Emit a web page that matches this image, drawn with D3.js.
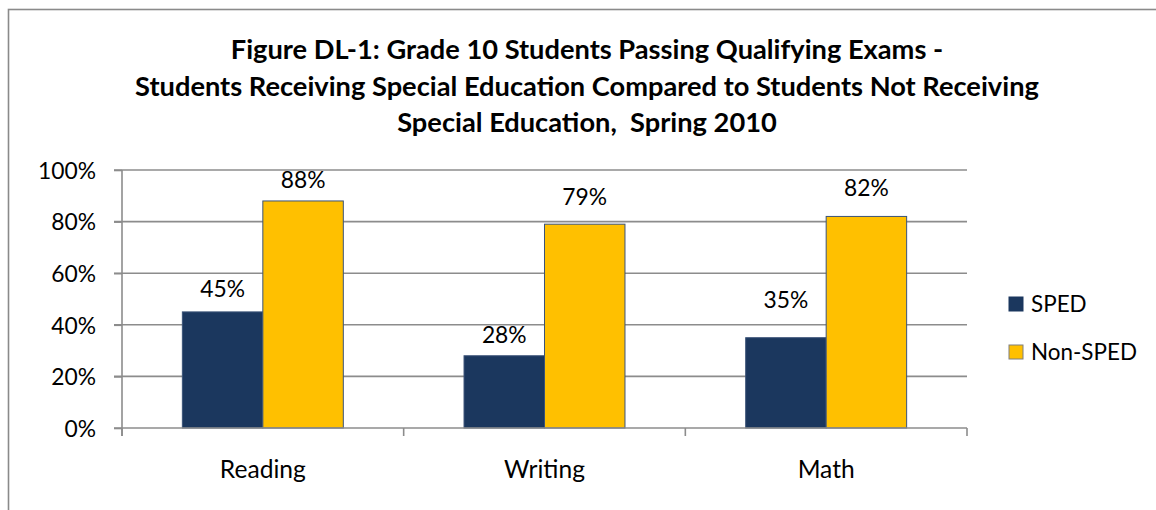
<!DOCTYPE html>
<html><head><meta charset="utf-8">
<script src="https://cdn.jsdelivr.net/npm/d3@7"></script>
<style>html,body{margin:0;padding:0;background:#fff;overflow:hidden} text{white-space:pre}</style>
</head><body>
<svg id="c" width="1156" height="510"></svg>
<script>
const categories = ["Reading", "Writing", "Math"];
const seriesNames = ["SPED", "Non-SPED"];
const spedValues = [45, 28, 35];
const nonSpedValues = [88, 79, 82];
const yTicks = [0, 20, 40, 60, 80, 100];
const titleLines = [
  "Figure DL-1: Grade 10 Students Passing Qualifying Exams -",
  "Students Receiving Special Education Compared to Students Not Receiving",
  "Special Education,  Spring 2010"
];
// layout-only nudges for data labels (px above bar top)
const labelLift = [[15, 13], [13, 19], [30, 20]];

(function () {
const FONT = "Lato, 'Open Sans', sans-serif";
const colors = ["#1B375E", "#FFC000"];
const gridColor = "#8c8c8c";

const svg = d3.select("#c");

function fitSize(text, weight, targetW) {
  const t = svg.append("text").attr("font-family", FONT).attr("font-weight", weight)
    .attr("font-size", 100).text(text);
  const w = t.node().getComputedTextLength();
  t.remove();
  return 100 * targetW / w;
}
const titleSize = fitSize(titleLines[1], "bold", 904);
const tickSize = fitSize("100%", "normal", 58);
const catSize = fitSize("Reading", "normal", 86);
const legSize = fitSize("Non-SPED", "normal", 106);

// frame
svg.append("rect").attr("x", 8.5).attr("y", 9.5).attr("width", 1200).attr("height", 600)
  .attr("fill", "none").attr("stroke", "#8a8a8a").attr("stroke-width", 1.6);

// title
svg.append("g").selectAll("text").data(titleLines).join("text")
  .attr("x", 587).attr("y", (d, i) => 59 + i * 36.5)
  .attr("text-anchor", "middle").attr("font-family", FONT).attr("font-weight", "bold")
  .attr("font-size", titleSize).attr("fill", "#000").text(d => d);

const pL = 122, pR = 967, pT = 170, pB = 428;
const x0 = d3.scaleBand().domain(categories).range([pL, pR]).paddingInner(0).paddingOuter(0);
const bw = x0.bandwidth() / 3.5;
const x1 = d3.scaleBand().domain(seriesNames).range([0.75 * bw, 2.75 * bw]).padding(0);
const y = d3.scaleLinear().domain([0, 100]).range([pB, pT]);

// gridlines
svg.append("g").selectAll("line").data(yTicks.filter(d => d > 0)).join("line")
  .attr("x1", pL - 8).attr("x2", pR).attr("y1", d => y(d)).attr("y2", d => y(d))
  .attr("stroke", gridColor).attr("stroke-width", 1.6);

// y axis
const yAxis = d3.axisLeft(y).tickValues(yTicks).tickSize(8).tickPadding(18)
  .tickFormat(d => d + "%");
const yg = svg.append("g").attr("transform", `translate(${pL},0)`).call(yAxis);
yg.select(".domain").remove();
yg.selectAll(".tick line").attr("stroke", gridColor).attr("stroke-width", 1.6);
yg.selectAll(".tick text").attr("font-family", FONT).attr("font-size", tickSize)
  .attr("fill", "#000").attr("dy", "0.36em");
svg.append("line").attr("x1", pL).attr("x2", pL).attr("y1", pT).attr("y2", pB + 8)
  .attr("stroke", gridColor).attr("stroke-width", 1.6);

// bars
const data = categories.map((c, i) => ({ cat: c, i, vals: [spedValues[i], nonSpedValues[i]] }));
const groups = svg.append("g").selectAll("g").data(data).join("g")
  .attr("transform", d => `translate(${x0(d.cat)},0)`);
groups.selectAll("rect").data(d => d.vals.map((v, j) => ({ v, j, s: seriesNames[j] }))).join("rect")
  .attr("x", d => x1(d.s)).attr("width", x1.bandwidth())
  .attr("y", d => y(d.v)).attr("height", d => pB - y(d.v))
  .attr("fill", d => colors[d.j]).attr("stroke", "#3b5378").attr("stroke-width", 1);

// x axis
svg.append("line").attr("x1", pL - 8).attr("x2", pR).attr("y1", pB).attr("y2", pB)
  .attr("stroke", gridColor).attr("stroke-width", 1.6);
const bounds = categories.map(c => x0(c)).concat([pR]);
svg.append("g").selectAll("line").data(bounds).join("line")
  .attr("x1", d => d).attr("x2", d => d).attr("y1", pB).attr("y2", pB + 8)
  .attr("stroke", gridColor).attr("stroke-width", 1.6);
svg.append("g").selectAll("text").data(categories).join("text")
  .attr("x", d => x0(d) + x0.bandwidth() / 2).attr("y", 478)
  .attr("text-anchor", "middle").attr("font-family", FONT).attr("font-size", catSize)
  .attr("fill", "#000").text(d => d);

// data labels
groups.selectAll("text").data(d => d.vals.map((v, j) => ({ v, j, s: seriesNames[j], i: d.i }))).join("text")
  .attr("x", d => x1(d.s) + x1.bandwidth() / 2)
  .attr("y", d => y(d.v) - labelLift[d.i][d.j])
  .attr("text-anchor", "middle").attr("font-family", FONT).attr("font-size", tickSize)
  .attr("fill", "#000").text(d => d.v + "%");

// legend
const leg = svg.append("g").selectAll("g").data(seriesNames).join("g")
  .attr("transform", (d, i) => `translate(1009,${297 + i * 48})`);
leg.append("rect").attr("width", 14).attr("height", 14)
  .attr("fill", (d, i) => colors[i]).attr("stroke", (d, i) => i ? "#7f7f7f" : colors[0]).attr("stroke-width", 1);
leg.append("text").attr("x", 22).attr("y", 7).attr("dy", "0.36em")
  .attr("font-family", FONT).attr("font-size", legSize).attr("fill", "#000").text(d => d);
})();
</script>
</body></html>
